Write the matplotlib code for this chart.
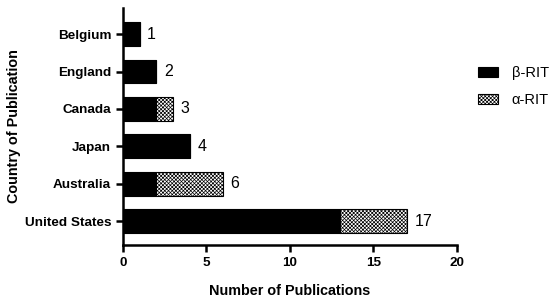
import matplotlib
matplotlib.use("Agg")
import matplotlib.pyplot as plt
import numpy as np

countries = ["Belgium", "England", "Canada", "Japan", "Australia", "United States"]
beta_rit = [1, 2, 2, 4, 2, 13]
alpha_rit = [0, 0, 1, 0, 4, 4]
totals = [b + a for b, a in zip(beta_rit, alpha_rit)]
xticks = [0, 5, 10, 15, 20]

plt.rcParams["font.family"] = ["Liberation Sans", "DejaVu Sans"]
plt.rcParams["hatch.linewidth"] = 0.5

fig = plt.figure(figsize=(5.5, 3.07), dpi=100)
ax = fig.add_axes([0.2236, 0.202, 0.6073, 0.772])

y = np.arange(len(countries))
h = 0.64
ax.barh(y, beta_rit, height=h, color="black", edgecolor="black", lw=0.8, label="β-RIT")
ax.barh(y, alpha_rit, left=beta_rit, height=h, color="white", edgecolor="black",
        hatch="xxxxxxxxx", lw=0.8, label="α-RIT")

for yi, t in zip(y, totals):
    ax.text(t + 0.45, yi, str(t), va="center", ha="left", fontsize=11.5)

ax.set_yticks(y)
ax.set_yticklabels(countries, fontweight="bold", fontsize=9.7)
ax.set_xticks(xticks)
ax.set_xticklabels([str(v) for v in xticks], fontweight="bold", fontsize=9.7)
ax.set_xlim(0, 20)
ax.set_ylim(len(countries) - 1 + 0.64, -0.7)

for s in ["top", "right"]:
    ax.spines[s].set_visible(False)
for s in ["left", "bottom"]:
    ax.spines[s].set_linewidth(1.8)
ax.tick_params(axis="both", width=1.8, length=5, direction="out")

ax.set_xlabel("Number of Publications", fontweight="bold", fontsize=10.4, labelpad=11)
ax.set_ylabel("Country of Publication", fontweight="bold", fontsize=10.4, labelpad=3)

ax.legend(loc="upper left", bbox_to_anchor=(1.063, 0.755), frameon=False, fontsize=10.5,
          borderaxespad=0, borderpad=0, handlelength=1.4, handleheight=0.7,
          handletextpad=0.9, labelspacing=0.9)

fig.savefig("out.png", dpi=100)
